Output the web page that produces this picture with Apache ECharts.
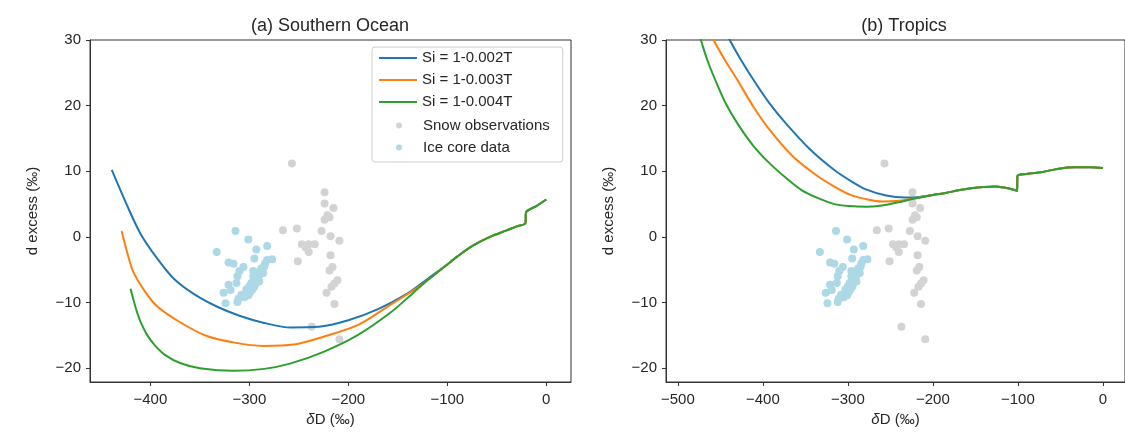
<!DOCTYPE html>
<html>
<head>
<meta charset="utf-8">
<script src="https://cdn.jsdelivr.net/npm/echarts@6/dist/echarts.min.js"></script>
<style>
    html, body { margin: 0; padding: 0; background: #fff; }
    #chart { width: 1125px; height: 435px; }
</style>
</head>
<body>
<div id="chart"></div>
<script>
// tick values
const yTicks = [-20, -10, 0, 10, 20, 30];
const xTicksSO = [-400, -300, -200, -100, 0];
const xTicksTR = [-500, -400, -300, -200, -100, 0];

// (a) Southern Ocean model curves [dD, d-excess]
const soBlue = [[-439, 10.2], [-425, 5.3], [-410, 0.5], [-393, -3.3], [-376, -6.4], [-355, -8.8], [-333, -10.6],
    [-310, -12.0], [-285, -13.1], [-258, -13.8], [-230, -13.7], [-200, -12.7], [-170, -11.0], [-140, -8.6], [-120, -6.4]];
const soOrange = [[-429, 0.9], [-423, -2.6], [-417, -5.4], [-405, -8.4], [-393, -10.6], [-370, -13.0], [-343, -15.1],
    [-315, -16.1], [-286, -16.6], [-255, -16.4], [-225, -15.2], [-190, -13.4], [-158, -10.4], [-130, -7.7], [-120, -6.6]];
const soGreen = [[-420, -7.9], [-415, -10.7], [-410, -12.9], [-403, -15.0], [-395, -16.6], [-385, -18.0], [-370, -19.2],
    [-350, -20.0], [-316, -20.4], [-285, -20.1], [-259, -19.3], [-225, -17.5], [-191, -15.0], [-158, -11.6],
    [-135, -8.6], [-120, -6.6]];
const soTail = [[-100, -4.2], [-90, -3.0], [-75, -1.4], [-57, 0.0], [-40, 1.0], [-30, 1.6], [-21, 2.1],
    [-20.5, 3.7], [-10, 4.7], [0, 5.7]];

// (b) Tropics model curves
const trBlue = [[-447, 32.5], [-439, 30], [-425, 26.8], [-411, 23.9], [-392, 20.3], [-373, 17.3], [-345, 13.4],
    [-316, 10.2], [-295, 8.4], [-278, 7.2], [-255, 6.3], [-233, 6.0], [-215, 6.1]];
const trOrange = [[-465, 32], [-458, 30], [-444, 26.8], [-430, 23.9], [-411, 19.8], [-392, 16.3], [-365, 12.3],
    [-335, 9.2], [-315, 7.6], [-297, 6.4], [-280, 5.8], [-260, 5.4], [-240, 5.5], [-220, 5.9]];
const trGreen = [[-478, 32], [-473, 30], [-465, 26.8], [-456, 23.9], [-444, 20.4], [-430, 17.3], [-412, 14.0],
    [-392, 11.2], [-373, 9.0], [-354, 7.1], [-335, 5.9], [-316, 5.0], [-298, 4.7], [-279, 4.6], [-260, 4.8],
    [-240, 5.3], [-220, 5.9]];
const trTail = [[-200, 6.4], [-185, 6.7], [-170, 7.1], [-155, 7.4], [-140, 7.6], [-127, 7.7], [-115, 7.5],
    [-105, 7.2], [-101, 7.0], [-100.5, 9.3], [-90, 9.6], [-71, 9.9], [-52, 10.4], [-33, 10.6], [-15, 10.6], [0, 10.5]];

// observations (same in both panels)
const snowObs = [[-257, 11.2], [-224, 6.8], [-224, 5.1], [-215, 4.4], [-221, 3.3], [-224, 2.6], [-219, 3.0],
    [-266, 1.0], [-252, 1.3], [-227, 0.9], [-218, 0.1], [-209, -0.6], [-247, -1.1], [-240, -1.1], [-234, -1.1],
    [-240, -2.3], [-243, -1.6], [-251, -3.7], [-218, -2.8], [-216, -4.6], [-219, -5.1], [-211, -6.6],
    [-214, -7.1], [-217, -7.6], [-222, -8.5], [-214, -10.2], [-237, -13.7], [-209, -15.6]];
const iceCore = [[-314, 0.9], [-333, -2.3], [-301, -0.4], [-293, -1.9], [-282, -1.4], [-295, -3.3], [-321, -3.9],
    [-316, -4.1], [-306, -4.6], [-282, -3.5], [-277, -3.4], [-284, -4.0], [-312, -6.0], [-321, -7.3], [-313, -7.0],
    [-326, -8.5], [-319, -8.1], [-311, -9.4], [-312, -9.9], [-324, -10.1], [-302, -8.6], [-305, -9.2],
    [-285, -4.5], [-287, -5.0], [-289, -5.4], [-290, -5.8], [-291, -6.2], [-292, -6.5], [-293, -6.9], [-294, -7.2],
    [-295, -7.6], [-297, -8.0], [-299, -8.4], [-300, -7.5], [-296, -6.0], [-298, -7.0], [-288, -4.8], [-301, -8.9],
    [-303, -8.0], [-290, -6.8], [-286, -5.5], [-310, -5.2], [-308, -8.8], [-296, -5.2]];

const FONT = '"Liberation Sans", Arial, sans-serif';
const TXT = '#262626';
const names = ['Si = 1-0.002T', 'Si = 1-0.003T', 'Si = 1-0.004T'];
const colors = ['#1f77b4', '#ff7f0e', '#2ca02c'];

const minus = v => String(v).replace('-', '\u2212');

function xAxisOf(idx, min, max, ticks) {
    return {
        type: 'value', gridIndex: idx, min: min, max: max,
        name: '{i|δ}D (‰)', nameLocation: 'middle', nameGap: 29,
        nameTextStyle: {color: TXT, fontSize: 15, fontFamily: FONT,
            rich: {i: {fontStyle: 'italic', fontSize: 15, fontFamily: FONT, color: TXT}}},
        axisLine: {show: true, onZero: false, lineStyle: {color: '#333', width: 1}},
        axisTick: {show: true, length: 4, lineStyle: {color: '#333'}, customValues: ticks},
        axisLabel: {color: TXT, fontSize: 15, fontFamily: FONT, margin: 10, customValues: ticks, formatter: minus},
        splitLine: {show: false}
    };
}

function yAxisOf(idx) {
    return {
        type: 'value', gridIndex: idx, min: -22.1, max: 30,
        name: 'd excess (‰)', nameLocation: 'middle', nameGap: 50,
        nameTextStyle: {color: TXT, fontSize: 15, fontFamily: FONT},
        axisLine: {show: true, onZero: false, lineStyle: {color: '#333', width: 1}},
        axisTick: {show: true, length: 4, lineStyle: {color: '#333'}, customValues: yTicks},
        axisLabel: {color: TXT, fontSize: 15, fontFamily: FONT, margin: 9, customValues: yTicks, formatter: minus},
        splitLine: {show: false}
    };
}

function lineSeries(name, color, data, idx) {
    return {
        name: name, type: 'line', xAxisIndex: idx, yAxisIndex: idx, data: data,
        smooth: 0.3, showSymbol: false, symbol: 'none', clip: true,
        color: color, lineStyle: {color: color, width: 2}, itemStyle: {color: color},
        z: 3, animation: false
    };
}

function scatterSeries(name, color, data, idx) {
    return {
        name: name, type: 'scatter', xAxisIndex: idx, yAxisIndex: idx, data: data,
        symbolSize: 8, itemStyle: {color: color, opacity: 1}, z: 2, animation: false
    };
}

let series = [];
[0, 1].forEach(idx => {
    series.push(scatterSeries('Snow observations', '#d3d3d3', snowObs, idx));
    series.push(scatterSeries('Ice core data', '#add8e6', iceCore, idx));
});
[soBlue, soOrange, soGreen].forEach((arr, i) => {
    series.push(lineSeries(names[i], colors[i], arr.concat(soTail), 0));
});
[trBlue, trOrange, trGreen].forEach((arr, i) => {
    series.push(lineSeries(names[i], colors[i], arr.concat(trTail), 1));
});

let chart = echarts.init(document.getElementById('chart'), null, {renderer: 'canvas'});
let option = {
    backgroundColor: '#fff',
    animation: false,
    title: [
        {text: '(a) Southern Ocean', left: 330, top: 17, textAlign: 'center', padding: 0,
            textStyle: {fontSize: 18, fontWeight: 'normal', color: TXT, fontFamily: FONT}},
        {text: '(b) Tropics', left: 904, top: 17, textAlign: 'center', padding: 0,
            textStyle: {fontSize: 18, fontWeight: 'normal', color: TXT, fontFamily: FONT}}
    ],
    grid: [
        {left: 90, top: 40, width: 481, height: 342, show: true, borderColor: '#333', borderWidth: 1},
        {left: 666, top: 40, width: 476, height: 342, show: true, borderColor: '#333', borderWidth: 1}
    ],
    xAxis: [xAxisOf(0, -461, 25, xTicksSO), xAxisOf(1, -514, 26, xTicksTR)],
    yAxis: [yAxisOf(0), yAxisOf(1)],
    legend: [
        // scatter entries, this one also draws the frame
        {
            data: ['Snow observations', 'Ice core data'], orient: 'vertical',
            left: 372, top: 47, padding: [70, 13, 6, 24], itemGap: 5,
            itemWidth: 38, itemHeight: 6, icon: 'circle',
            backgroundColor: 'rgba(255,255,255,0.8)', borderColor: '#cccccc', borderWidth: 1, borderRadius: 3,
            textStyle: {fontSize: 15, fontFamily: FONT, color: TXT, lineHeight: 17},
            selectedMode: false, z: 5
        },
        // line entries
        {
            data: names, orient: 'vertical', left: 379, top: 49.5, padding: 0, itemGap: 5,
            itemWidth: 38, itemHeight: 2, icon: 'rect',
            textStyle: {fontSize: 15, fontFamily: FONT, color: TXT, lineHeight: 17},
            selectedMode: false, z: 6
        }
    ],
    series: series
};
chart.setOption(option);
</script>
</body>
</html>
